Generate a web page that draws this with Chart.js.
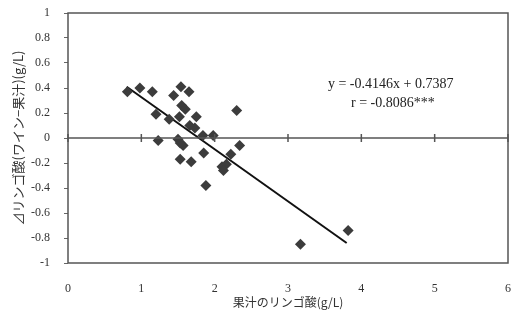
<!DOCTYPE html>
<html>
<head>
<meta charset="utf-8">
<script src="https://cdn.jsdelivr.net/npm/chart.js@4"></script>
<style>
  html, body { margin: 0; padding: 0; background: #fff; }
</style>
</head>
<body>
<canvas id="c" width="514" height="325"></canvas>
<script>
// juice malic acid (g/L) vs. delta malic acid (wine - juice)
const juiceMalic = [0.81, 0.98, 1.15, 1.20, 1.23, 1.38, 1.44, 1.54, 1.65, 1.55, 1.60, 1.52, 1.75, 1.66, 1.73, 1.84,
                    1.98, 2.30, 1.50, 1.57, 1.53, 1.85, 2.34, 2.22, 1.53, 1.68, 2.10, 2.16, 2.12, 1.88, 3.17, 3.82];
const deltaMalic = [0.37, 0.40, 0.37, 0.19, -0.02, 0.15, 0.34, 0.41, 0.37, 0.26, 0.23, 0.17, 0.17, 0.10, 0.08, 0.02,
                    0.02, 0.22, -0.01, -0.06, -0.04, -0.12, -0.06, -0.13, -0.17, -0.19, -0.23, -0.21, -0.26, -0.38, -0.85, -0.74];
const fitX = [0.8, 3.8];
const fitY = [0.41, -0.84];
const xTicks = [0, 1, 2, 3, 4, 5, 6];
const yTicks = [-1, -0.8, -0.6, -0.4, -0.2, 0, 0.2, 0.4, 0.6, 0.8, 1];
const eqLines = ['y = -0.4146x + 0.7387', 'r = -0.8086***'];

const serif = 'Liberation Serif, DejaVu Serif, serif';
const cjk = '"Noto Sans CJK JP", sans-serif';

const frame = {
  id: 'frame',
  afterDatasetsDraw(chart) {
    const { ctx, chartArea: a, scales: { x, y } } = chart;
    ctx.save();
    ctx.strokeStyle = '#555';
    ctx.lineWidth = 1.5;
    ctx.strokeRect(a.left, a.top, a.right - a.left, a.bottom - a.top);
    // zero line with x tick marks
    const y0 = y.getPixelForValue(0);
    ctx.beginPath();
    ctx.moveTo(a.left, y0);
    ctx.lineTo(a.right, y0);
    xTicks.forEach(v => {
      const px = x.getPixelForValue(v);
      ctx.moveTo(px, y0 - 4);
      ctx.lineTo(px, y0 + 4);
    });
    ctx.stroke();
    // equation text
    ctx.fillStyle = '#222';
    ctx.font = '14px ' + serif;
    ctx.textAlign = 'center';
    ctx.textBaseline = 'middle';
    ctx.fillText(eqLines[0], x.getPixelForValue(4.4), y.getPixelForValue(0.43));
    ctx.fillText(eqLines[1], x.getPixelForValue(4.43), y.getPixelForValue(0.28));
    ctx.restore();
  }
};

new Chart(document.getElementById('c'), {
  type: 'scatter',
  data: {
    datasets: [{
      data: juiceMalic.map((v, i) => ({ x: v, y: deltaMalic[i] })),
      pointStyle: 'rectRot',
      pointRadius: 5.5,
      backgroundColor: '#3c3c3c',
      borderColor: '#3c3c3c',
      borderWidth: 0
    }, {
      type: 'line',
      data: fitX.map((v, i) => ({ x: v, y: fitY[i] })),
      borderColor: '#111',
      borderWidth: 2,
      pointRadius: 0,
      fill: false
    }]
  },
  plugins: [frame],
  options: {
    responsive: false,
    animation: false,
    devicePixelRatio: 1,
    layout: { padding: { top: 13, right: 6, left: 6, bottom: 11 } },
    plugins: { legend: { display: false }, tooltip: { enabled: false } },
    scales: {
      x: {
        type: 'linear', min: 0, max: 6,
        afterBuildTicks: s => { s.ticks = xTicks.map(v => ({ value: v })); },
        afterFit: s => { s.height = 51; s.paddingLeft = 0; s.paddingRight = 0; },
        grid: { display: false },
        border: { display: false },
        ticks: { color: '#333', font: { family: serif, size: 12 }, padding: 11, autoSkip: false, maxRotation: 0,
                 callback: v => String(v) },
        title: { display: true, text: '果汁のリンゴ酸(g/L)', color: '#333', font: { family: cjk, size: 12 }, padding: { top: 0 } }
      },
      y: {
        type: 'linear', min: -1, max: 1,
        afterBuildTicks: s => { s.ticks = yTicks.map(v => ({ value: v })); },
        afterFit: s => { s.width = 62; s.paddingTop = 0; s.paddingBottom = 0; },
        grid: { drawOnChartArea: false, drawTicks: true, tickLength: 4, color: '#666' },
        border: { display: false },
        ticks: { color: '#333', font: { family: serif, size: 12 }, padding: 14, autoSkip: false,
                 callback: v => String(v) },
        title: { display: true, text: '⊿リンゴ酸(ワイン−果汁)(g/L)', color: '#333', font: { family: cjk, size: 13 }, padding: { bottom: 2 } }
      }
    }
  }
});
</script>
</body>
</html>
